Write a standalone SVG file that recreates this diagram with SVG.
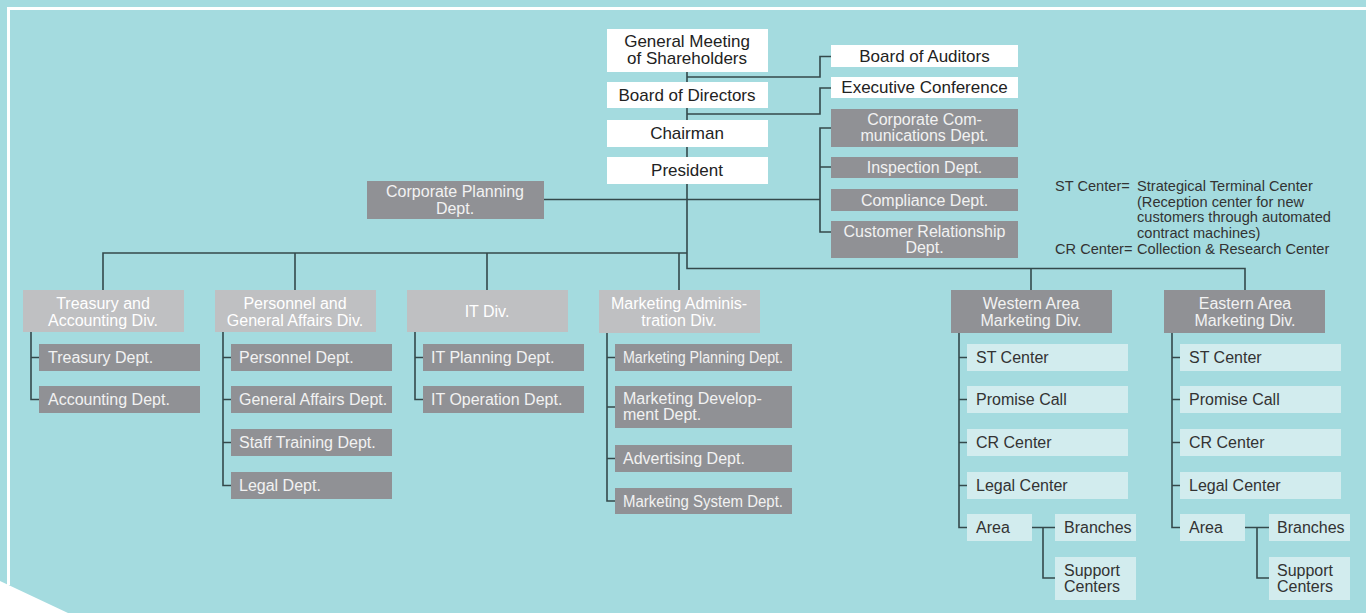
<svg xmlns="http://www.w3.org/2000/svg" width="1366" height="613" viewBox="0 0 1366 613">
<style>
text{font-family:"Liberation Sans",Arial,sans-serif;font-size:16px}
.w{fill:#ffffff}
.g{fill:#909195}
.lg{fill:#bfc0c2}
.lc{fill:#d2ecee}
.tw{fill:#222222;font-size:17px}
.tg{fill:#f2f2f2}
.tl{fill:#333333}
.c{text-anchor:middle}
.ln{fill:none;stroke:#34494b;stroke-width:1.6}
.leg{font-size:14.6px;fill:#333333}
</style>
<rect x="0" y="0" width="1366" height="613" fill="#a4dbdf"/>
<path d="M8.5,585 V8.5 H1366" fill="none" stroke="#ffffff" stroke-width="3"/>
<polygon points="0,581 68,613 0,613" fill="#ffffff"/>

<g id="connectors" class="ln">
<path d="M687,72 V268.5 H1245 V290"/>
<path d="M1031,268.5 V290"/>
<path d="M687,77 H820 V56.5 H831"/>
<path d="M687,114 H820 V88 H831"/>
<path d="M544,199.5 H820"/>
<path d="M831,128 H820 V232 H831 M820,167 H831"/>
<path d="M103,290 V253 H687 M295,253 V290 M487,253 V290 M679,253 V290"/>
<path d="M31,332 V399.5 H39 M31,357.5 H39"/>
<path d="M223,332 V485.5 H231 M223,357.5 H231 M223,399.5 H231 M223,442.5 H231"/>
<path d="M415,332 V399.5 H423 M415,357.5 H423"/>
<path d="M607,333 V501 H615 M607,357.5 H615 M607,407 H615 M607,458.5 H615"/>
<path d="M959,333 V527.5 H967 M959,357.5 H967 M959,399.5 H967 M959,442.5 H967 M959,485.5 H967"/>
<path d="M1032,527.5 H1055 M1043,527.5 V578 H1055"/>
<path d="M1172,333 V527.5 H1180 M1172,357.5 H1180 M1172,399.5 H1180 M1172,442.5 H1180 M1172,485.5 H1180"/>
<path d="M1245,527.5 H1269 M1257,527.5 V578 H1269"/>
</g>

<g id="gms"><rect class="w" x="607" y="29" width="161" height="43"/><text class="tw c" x="687" y="47">General Meeting</text><text class="tw c" x="687" y="64">of Shareholders</text></g>
<g id="bod"><rect class="w" x="607" y="82" width="161" height="26"/><text class="tw c" x="687" y="101">Board of Directors</text></g>
<g id="chairman"><rect class="w" x="607" y="120" width="161" height="27"/><text class="tw c" x="687" y="139">Chairman</text></g>
<g id="president"><rect class="w" x="607" y="157" width="161" height="27"/><text class="tw c" x="687" y="176">President</text></g>

<g id="auditors"><rect class="w" x="831" y="45" width="187" height="22"/><text class="tw c" x="924.5" y="62">Board of Auditors</text></g>
<g id="exec"><rect class="w" x="831" y="77" width="187" height="21"/><text class="tw c" x="924.5" y="93">Executive Conference</text></g>
<g id="corpcomm"><rect class="g" x="831" y="109" width="187" height="38"/><text class="tg c" x="924.5" y="125">Corporate Com-</text><text class="tg c" x="924.5" y="141">munications Dept.</text></g>
<g id="inspection"><rect class="g" x="831" y="157" width="187" height="21"/><text class="tg c" x="924.5" y="173">Inspection Dept.</text></g>
<g id="compliance"><rect class="g" x="831" y="189" width="187" height="22"/><text class="tg c" x="924.5" y="206">Compliance Dept.</text></g>
<g id="crd"><rect class="g" x="831" y="221" width="187" height="37"/><text class="tg c" x="924.5" y="237">Customer Relationship</text><text class="tg c" x="924.5" y="253">Dept.</text></g>

<g id="corpplan"><rect class="g" x="367" y="181" width="177" height="38"/><text class="tg c" x="455" y="197">Corporate Planning</text><text class="tg c" x="455" y="214">Dept.</text></g>

<g id="legend">
<text class="leg" x="1055" y="191">ST Center=</text>
<text class="leg" x="1137" y="191">Strategical Terminal Center</text>
<text class="leg" x="1137" y="207">(Reception center for new</text>
<text class="leg" x="1137" y="222">customers through automated</text>
<text class="leg" x="1137" y="238">contract machines)</text>
<text class="leg" x="1055" y="254">CR Center=</text>
<text class="leg" x="1137" y="254">Collection &amp; Research Center</text>
</g>

<g id="treasurydiv"><rect class="lg" x="23" y="290" width="161" height="42"/><text class="c" fill="#fff" x="103" y="309">Treasury and</text><text class="c" fill="#fff" x="103" y="326">Accounting Div.</text></g>
<g id="treasury"><rect class="g" x="39" y="344" width="161" height="27"/><text class="tg" x="48" y="363">Treasury Dept.</text></g>
<g id="accounting"><rect class="g" x="39" y="386" width="161" height="27"/><text class="tg" x="48" y="405">Accounting Dept.</text></g>

<g id="personneldiv"><rect class="lg" x="215" y="290" width="161" height="42"/><text class="c" fill="#fff" x="295" y="309">Personnel and</text><text class="c" fill="#fff" x="295" y="326">General Affairs Div.</text></g>
<g id="personnel"><rect class="g" x="231" y="344" width="161" height="27"/><text class="tg" x="239" y="363">Personnel Dept.</text></g>
<g id="genaffairs"><rect class="g" x="231" y="386" width="161" height="27"/><text class="tg" x="239" y="405">General Affairs Dept.</text></g>
<g id="stafftraining"><rect class="g" x="231" y="429" width="161" height="27"/><text class="tg" x="239" y="448">Staff Training Dept.</text></g>
<g id="legal"><rect class="g" x="231" y="472" width="161" height="27"/><text class="tg" x="239" y="491">Legal Dept.</text></g>

<g id="itdiv"><rect class="lg" x="407" y="290" width="161" height="42"/><text class="c" fill="#fff" x="487" y="317">IT Div.</text></g>
<g id="itplanning"><rect class="g" x="423" y="344" width="161" height="27"/><text class="tg" x="431" y="363">IT Planning Dept.</text></g>
<g id="itoperation"><rect class="g" x="423" y="386" width="161" height="27"/><text class="tg" x="431" y="405">IT Operation Dept.</text></g>

<g id="mktadmin"><rect class="lg" x="599" y="290" width="161" height="43"/><text class="c" fill="#fff" x="679" y="309">Marketing Adminis-</text><text class="c" fill="#fff" x="679" y="326">tration Div.</text></g>
<g id="mktplanning"><rect class="g" x="615" y="344" width="177" height="27"/><text class="tg" x="623" y="363" textLength="160" lengthAdjust="spacingAndGlyphs">Marketing Planning Dept.</text></g>
<g id="mktdev"><rect class="g" x="615" y="386" width="177" height="42"/><text class="tg" x="623" y="404">Marketing Develop-</text><text class="tg" x="623" y="420">ment Dept.</text></g>
<g id="advertising"><rect class="g" x="615" y="445" width="177" height="27"/><text class="tg" x="623" y="464">Advertising Dept.</text></g>
<g id="mktsystem"><rect class="g" x="615" y="488" width="177" height="26"/><text class="tg" x="623" y="507" textLength="160" lengthAdjust="spacingAndGlyphs">Marketing System Dept.</text></g>

<g id="western"><rect class="g" x="951" y="290" width="161" height="43"/><text class="tg c" x="1031" y="309">Western Area</text><text class="tg c" x="1031" y="326">Marketing Div.</text></g>
<g id="w-st"><rect class="lc" x="967" y="344" width="161" height="27"/><text class="tl" x="976" y="363">ST Center</text></g>
<g id="w-promise"><rect class="lc" x="967" y="386" width="161" height="27"/><text class="tl" x="976" y="405">Promise Call</text></g>
<g id="w-cr"><rect class="lc" x="967" y="429" width="161" height="27"/><text class="tl" x="976" y="448">CR Center</text></g>
<g id="w-legal"><rect class="lc" x="967" y="472" width="161" height="27"/><text class="tl" x="976" y="491">Legal Center</text></g>
<g id="w-area"><rect class="lc" x="967" y="514" width="65" height="27"/><text class="tl" x="976" y="533">Area</text></g>
<g id="w-branches"><rect class="lc" x="1055" y="514" width="81" height="27"/><text class="tl" x="1064" y="533">Branches</text></g>
<g id="w-support"><rect class="lc" x="1055" y="557" width="81" height="43"/><text class="tl" x="1064" y="576">Support</text><text class="tl" x="1064" y="592">Centers</text></g>

<g id="eastern"><rect class="g" x="1164" y="290" width="161" height="43"/><text class="tg c" x="1245" y="309">Eastern Area</text><text class="tg c" x="1245" y="326">Marketing Div.</text></g>
<g id="e-st"><rect class="lc" x="1180" y="344" width="161" height="27"/><text class="tl" x="1189" y="363">ST Center</text></g>
<g id="e-promise"><rect class="lc" x="1180" y="386" width="161" height="27"/><text class="tl" x="1189" y="405">Promise Call</text></g>
<g id="e-cr"><rect class="lc" x="1180" y="429" width="161" height="27"/><text class="tl" x="1189" y="448">CR Center</text></g>
<g id="e-legal"><rect class="lc" x="1180" y="472" width="161" height="27"/><text class="tl" x="1189" y="491">Legal Center</text></g>
<g id="e-area"><rect class="lc" x="1180" y="514" width="65" height="27"/><text class="tl" x="1189" y="533">Area</text></g>
<g id="e-branches"><rect class="lc" x="1269" y="514" width="81" height="27"/><text class="tl" x="1277" y="533">Branches</text></g>
<g id="e-support"><rect class="lc" x="1269" y="557" width="81" height="43"/><text class="tl" x="1277" y="576">Support</text><text class="tl" x="1277" y="592">Centers</text></g>
</svg>
